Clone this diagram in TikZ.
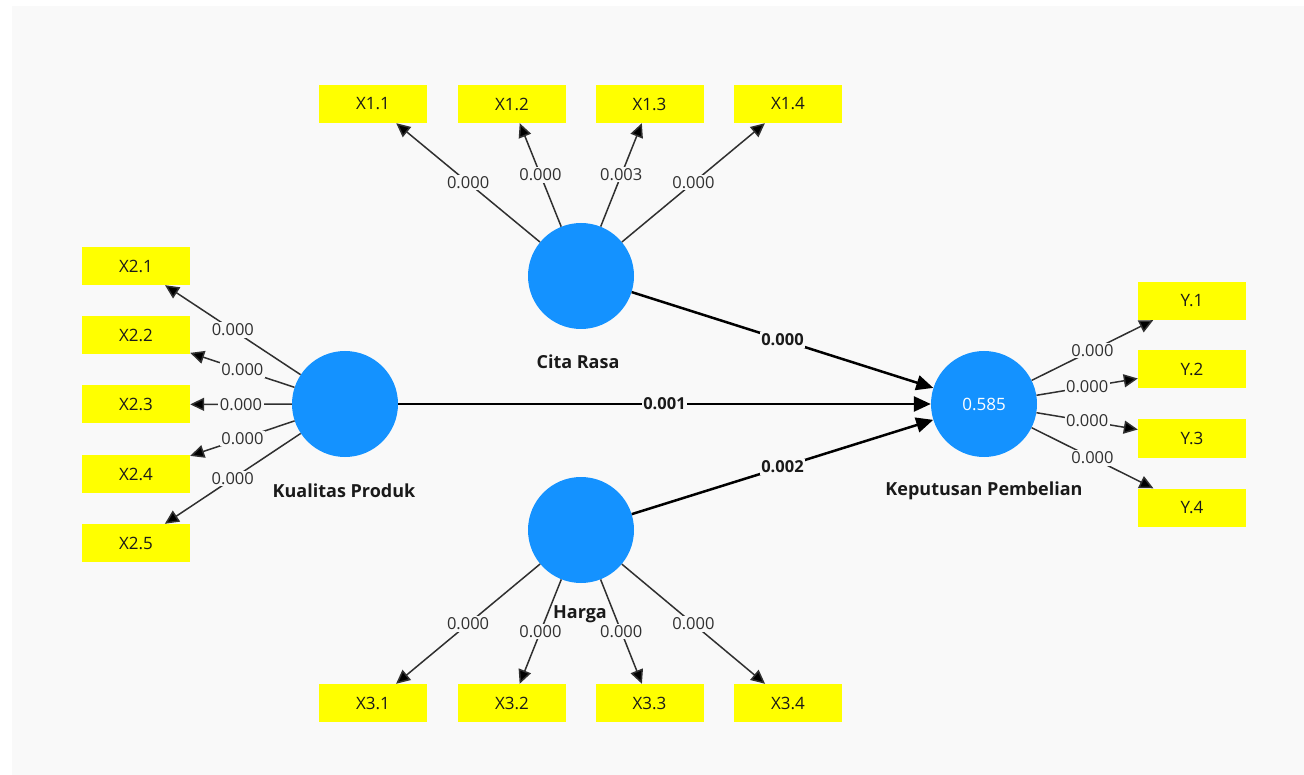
\documentclass[tikz,border=0pt]{standalone}
\usepackage{fontspec}
\setmainfont{Open Sans}
\usetikzlibrary{arrows.meta}
\definecolor{bgc}{HTML}{F9F9F9}
\definecolor{lvc}{RGB}{20,146,255}
\definecolor{indc}{HTML}{FFFF00}
\definecolor{ldc}{HTML}{303030}
\definecolor{txc}{HTML}{1A1A1A}
\begin{document}
\begin{tikzpicture}[x=1pt,y=-1pt,
 lv/.style={circle, fill=lvc, minimum size=106pt, inner sep=0pt},
 indbox/.style={rectangle, fill=indc, minimum width=108pt, minimum height=38pt, inner sep=0pt, text=txc, font=\fontsize{17}{19}\selectfont},
 lvname/.style={font=\bfseries\fontsize{18}{20}\selectfont, text=txc},
 load/.style={draw=ldc, line width=1.5pt, -{Triangle[length=14pt,width=13pt,fill=black]}},
 structpath/.style={draw=black, line width=2.5pt, -{Triangle[length=17pt,width=15pt]}},
 lbl/.style={fill=bgc, inner sep=1.5pt, font=\fontsize{16.5}{18}\selectfont, text=ldc},
 plbl/.style={fill=bgc, inner sep=1.5pt, font=\bfseries\fontsize{16.5}{18}\selectfont, text=txc}
]
\useasboundingbox (0,0) rectangle (1304,775);
\fill[white] (0,0) rectangle (1304,775);
\fill[bgc] (12,6) rectangle (1304,775);

% latent variables
\node[lv] (CR) at (581,276) {};
\node[lv] (KP) at (345,404) {};
\node[lv] (H) at (581,530) {};
\node[lv, text=white, font=\fontsize{17}{19}\selectfont] (KPB) at (984,404) {0.585};

\node[lvname] (CRn) at (578,362) {Cita Rasa};
\node[lvname] (KPn) at (344,491) {Kualitas Produk};
\node[lvname] (Hn) at (580,614) {Harga};
\node[lvname] (KPBn) at (984,491) {Keputusan Pembelian};

% indicators
\node[indbox] (X11) at (373,104) {X1.1};
\node[indbox] (X12) at (512,104) {X1.2};
\node[indbox] (X13) at (649.5,104) {X1.3};
\node[indbox] (X14) at (788,104) {X1.4};

\node[indbox] (X21) at (136,266) {X2.1};
\node[indbox] (X22) at (136,335) {X2.2};
\node[indbox] (X23) at (136,404.5) {X2.3};
\node[indbox] (X24) at (136,474) {X2.4};
\node[indbox] (X25) at (136,543) {X2.5};

\node[indbox] (X31) at (373,703) {X3.1};
\node[indbox] (X32) at (512,703) {X3.2};
\node[indbox] (X33) at (649.5,703) {X3.3};
\node[indbox] (X34) at (788,703) {X3.4};

\node[indbox] (Y1) at (1192,301) {Y.1};
\node[indbox] (Y2) at (1192,369.5) {Y.2};
\node[indbox] (Y3) at (1192,438.5) {Y.3};
\node[indbox] (Y4) at (1192,507.5) {Y.4};

% loadings
\draw[load] (CR) -- node[lbl] {0.000} (X11);
\draw[load] (CR) -- node[lbl] {0.000} (X12);
\draw[load] (CR) -- node[lbl] {0.003} (X13);
\draw[load] (CR) -- node[lbl] {0.000} (X14);

\draw[load] (KP) -- node[lbl] {0.000} (X21);
\draw[load] (KP) -- node[lbl] {0.000} (X22);
\draw[load] (KP) -- node[lbl] {0.000} (X23);
\draw[load] (KP) -- node[lbl] {0.000} (X24);
\draw[load] (KP) -- node[lbl] {0.000} (X25);

\draw[load] (H) -- node[lbl] {0.000} (X31);
\draw[load] (H) -- node[lbl] {0.000} (X32);
\draw[load] (H) -- node[lbl] {0.000} (X33);
\draw[load] (H) -- node[lbl] {0.000} (X34);

\draw[load] (KPB) -- node[lbl] {0.000} (Y1);
\draw[load] (KPB) -- node[lbl] {0.000} (Y2);
\draw[load] (KPB) -- node[lbl] {0.000} (Y3);
\draw[load] (KPB) -- node[lbl] {0.000} (Y4);

% structural paths
\draw[structpath] (CR) -- node[plbl] {0.000} (KPB);
\draw[structpath] (KP) -- node[plbl] {0.001} (KPB);
\draw[structpath] (H) -- node[plbl] {0.002} (KPB);

\end{tikzpicture}
\end{document}
